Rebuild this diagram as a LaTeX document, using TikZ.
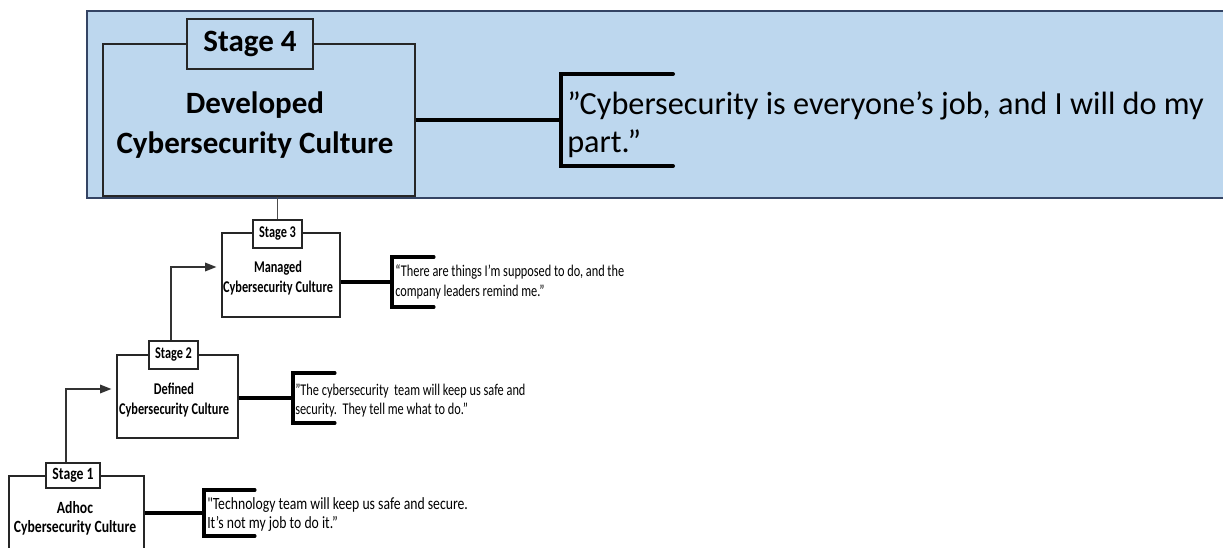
\documentclass[tikz,border=0pt]{standalone}
\usepackage{fontspec}
\setmainfont{Carlito}
% condensed cuts used by the smaller stages
\newfontfamily\stagecondA[FakeStretch=0.75]{Carlito}
\newfontfamily\stagecondB[FakeStretch=0.8]{Carlito}
\usetikzlibrary{arrows.meta,calc}

\newdimen\px \px=0.75pt
\definecolor{bandfill}{RGB}{189,215,238}
\definecolor{bandedge}{RGB}{52,68,100}

\begin{document}
\begin{tikzpicture}[x=0.75pt,y=-0.75pt,
  stagebox/.style={draw=black!85, line width=0.9pt, rectangle, inner sep=0pt},
  stagelabel/.style={draw=black!85, line width=0.9pt, fill=white, rectangle, inner sep=0pt,
    font=\stagecondA\bfseries\fontsize{12.3pt}{14pt}\selectfont},
  stagetext/.style={align=center, inner sep=0pt,
    font=\stagecondA\bfseries\fontsize{12.3pt}{15pt}\selectfont},
  quotetext/.style={anchor=west, align=left, inner sep=0pt,
    font=\stagecondA\fontsize{12.3pt}{14.6pt}\selectfont},
  link/.style={draw=black, line width=2.3pt},
  bracketline/.style={draw=black, line width=2.3pt, line cap=round},
  flow/.style={draw=black!80, line width=0.95pt, -{Triangle[length=8.5pt,width=6.5pt]}},
  thinline/.style={draw=black!70, line width=0.8pt}
]
\clip (0,0) rectangle (1223,548);
\useasboundingbox (0,0) rectangle (1223,548);

% highlighted band for the top stage
\node[draw=bandedge, line width=1.1pt, fill=bandfill, minimum width=1139\px,
      minimum height=187\px, inner sep=0pt] (band) at (656.5,104.5) {};

% Stage 4
\node[stagebox, fill=bandfill, line width=1.1pt, minimum width=312\px, minimum height=152\px]
  (s4box) at (259,120) {};
\node[stagelabel, fill=bandfill, line width=1.1pt, minimum width=126\px, minimum height=50\px,
      font=\bfseries\fontsize{23.25pt}{28pt}\selectfont] (s4lab) at (250,44) {Stage 4};
\node[stagetext, font=\bfseries\fontsize{23.25pt}{30pt}\selectfont] (s4txt) at (255,125.3)
  {Developed\\Cybersecurity Culture};
\coordinate (b4) at (561,120);
\draw[link, line width=3pt] (s4box.east) -- (b4);
\draw[bracketline, line width=3pt] (b4) ++(112,-46) -- ++(-112,0) -- ++(0,92) -- ++(112,0);
\node[quotetext, font=\fontsize{24.2pt}{28.5pt}\selectfont] (q4) at (567,125)
  {”Cybersecurity is everyone’s job, and I will do my\\part.”};

% Stage 3
\node[stagebox, minimum width=118\px, minimum height=84\px] (s3box) at (281,275) {};
\node[stagelabel, minimum width=49\px, minimum height=28\px] (s3lab) at (277.5,234) {Stage 3};
\node[stagetext] (s3txt) at (278,278.5) {Managed\\Cybersecurity Culture};
\coordinate (b3) at (392,282);
\draw[link] (s3box.east |- b3) -- (b3);
\draw[bracketline] (b3) ++(42,-25) -- ++(-42,0) -- ++(0,50) -- ++(42,0);
\node[quotetext] (q3) at (395,282)
  {“There are things I’m supposed to do, and the\\company leaders remind me.”};

% Stage 2
\node[stagebox, minimum width=121\px, minimum height=83\px] (s2box) at (177.5,396.5) {};
\node[stagelabel, minimum width=49\px, minimum height=28\px] (s2lab) at (173.5,355) {Stage 2};
\node[stagetext] (s2txt) at (174,400) {Defined\\Cybersecurity Culture};
\coordinate (b2) at (293,398);
\draw[link] (s2box.east |- b2) -- (b2);
\draw[bracketline] (b2) ++(42,-25) -- ++(-42,0) -- ++(0,50) -- ++(42,0);
\node[quotetext] (q2) at (295,400.5)
  {”The cybersecurity\ \ team will keep us safe and\\security.\ \ They tell me what to do.”};

% Stage 1
\node[stagebox, minimum width=135\px, minimum height=84\px] (s1box) at (76.5,518) {};
\node[stagelabel, minimum width=54\px, minimum height=25\px,
      font=\stagecondB\bfseries\fontsize{12.85pt}{14pt}\selectfont] (s1lab) at (73,475.5) {Stage 1};
\node[stagetext, font=\stagecondB\bfseries\fontsize{12.85pt}{14.25pt}\selectfont] (s1txt) at (75,518)
  {Adhoc\\Cybersecurity Culture};
\coordinate (b1) at (204,513);
\draw[link] (s1box.east |- b1) -- (b1);
\draw[bracketline] (b1) ++(51,-23) -- ++(-51,0) -- ++(0,46) -- ++(51,0);
\node[quotetext, font=\stagecondB\fontsize{12.85pt}{14.25pt}\selectfont] (q1) at (207,515)
  {"Technology team will keep us safe and secure.\\It’s not my job to do it.”};

% progression between stages
\draw[flow] ($(s1lab.north)+(-7,0)$) |- ($(s2box.west)+(-5,-7.5)$);
\draw[flow] ($(s2lab.north)+(-2.5,0)$) |- ($(s3box.west)+(-5,-8)$);
\draw[thinline] (s3lab.north |- s4box.south) -- (s3lab.north);
\end{tikzpicture}
\end{document}
